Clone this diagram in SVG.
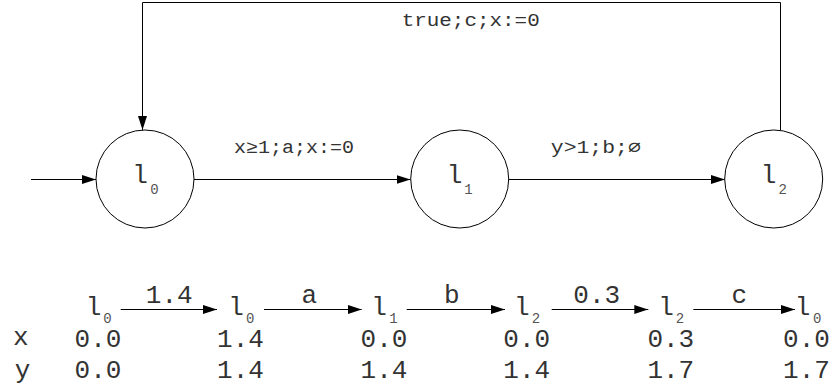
<svg xmlns="http://www.w3.org/2000/svg" width="832" height="392" viewBox="0 0 832 392">
<style>
text { font-family: "Liberation Mono", "Courier New", "DejaVu Sans Mono", monospace; fill: #333; }
.node { fill: #fff; stroke: #000; stroke-width: 1; }
.edge { fill: none; stroke: #000; stroke-width: 1; }
.big { font-size: 26px; text-anchor: middle; }
.sub { font-size: 14px; text-anchor: middle; fill: #555; }
.sub2 { font-size: 14px; text-anchor: middle; fill: #555; }
.lbl { font-size: 18px; text-anchor: middle; }
</style>
<defs>
<marker id="arr" markerUnits="userSpaceOnUse" markerWidth="14" markerHeight="9" refX="14" refY="4.5" orient="auto">
<path d="M0,0 L14,4.5 L0,9 z" fill="#000"/>
</marker>
</defs>
<g id="connectors">
<line class="edge" x1="31" y1="179.5" x2="96" y2="179.5" marker-end="url(#arr)"/>
<line class="edge" x1="194" y1="179.5" x2="410.5" y2="179.5" marker-end="url(#arr)"/>
<line class="edge" x1="508.5" y1="179.5" x2="725" y2="179.5" marker-end="url(#arr)"/>
<polyline class="edge" points="780.5,130.5 780.5,2.5 142.5,2.5 142.5,130" marker-end="url(#arr)"/>
<text class="lbl" x="470.7" y="26" textLength="138" lengthAdjust="spacingAndGlyphs">true;c;x:=0</text>
<text class="lbl" x="294" y="153" textLength="120" lengthAdjust="spacingAndGlyphs">x≥1;a;x:=0</text>
<text class="lbl" x="595.8" y="153" textLength="90" lengthAdjust="spacingAndGlyphs">y&gt;1;b;∅</text>
</g>
<g id="l0">
<circle class="node" cx="145" cy="179" r="49"/>
<text class="big" x="140" y="183">l</text>
<text class="sub" x="154.5" y="194">0</text>
</g>
<g id="l1">
<circle class="node" cx="459.7" cy="179" r="49"/>
<text class="big" x="454.5" y="183">l</text>
<text class="sub" x="468.5" y="194">1</text>
</g>
<g id="l2">
<circle class="node" cx="773.7" cy="179" r="49"/>
<text class="big" x="768.5" y="183">l</text>
<text class="sub" x="782.7" y="194">2</text>
</g>
<g id="run">
<g id="run-arrows">
<line class="edge" x1="120.7" y1="309.5" x2="217" y2="309.5" marker-end="url(#arr)"/>
<line class="edge" x1="264" y1="309.5" x2="361.7" y2="309.5" marker-end="url(#arr)"/>
<line class="edge" x1="406.7" y1="309.5" x2="505" y2="309.5" marker-end="url(#arr)"/>
<line class="edge" x1="551.7" y1="309.5" x2="648.3" y2="309.5" marker-end="url(#arr)"/>
<line class="edge" x1="693.3" y1="309.5" x2="795" y2="309.5" marker-end="url(#arr)"/>
<text class="big" x="169.2" y="303">1.4</text>
<text class="big" x="309.2" y="303">a</text>
<text class="big" x="451.7" y="303">b</text>
<text class="big" x="596.7" y="303">0.3</text>
<text class="big" x="739.2" y="303">c</text>
</g>
<g id="run-states">
<text class="big" x="93.5" y="315">l</text><text class="sub2" x="107.5" y="323">0</text>
<text class="big" x="236" y="315">l</text><text class="sub2" x="250.3" y="323">0</text>
<text class="big" x="379" y="315">l</text><text class="sub2" x="393.5" y="323">1</text>
<text class="big" x="521.7" y="315">l</text><text class="sub2" x="536" y="323">2</text>
<text class="big" x="666" y="315">l</text><text class="sub2" x="680" y="323">2</text>
<text class="big" x="802.5" y="315">l</text><text class="sub2" x="817.2" y="323">0</text>
</g>
<g id="run-x">
<text class="big" x="20.8" y="345">x</text>
<text class="big" x="98" y="346.5">0.0</text>
<text class="big" x="240.5" y="346.5">1.4</text>
<text class="big" x="384" y="346.5">0.0</text>
<text class="big" x="526.7" y="346.5">0.0</text>
<text class="big" x="670.8" y="346.5">0.3</text>
<text class="big" x="806.5" y="346.5">0.0</text>
</g>
<g id="run-y">
<text class="big" x="22.5" y="378">y</text>
<text class="big" x="98" y="378.3">0.0</text>
<text class="big" x="240.5" y="378.3">1.4</text>
<text class="big" x="384" y="378.3">1.4</text>
<text class="big" x="526.7" y="378.3">1.4</text>
<text class="big" x="670.8" y="378.3">1.7</text>
<text class="big" x="806.5" y="378.3">1.7</text>
</g>
</g>
</svg>
